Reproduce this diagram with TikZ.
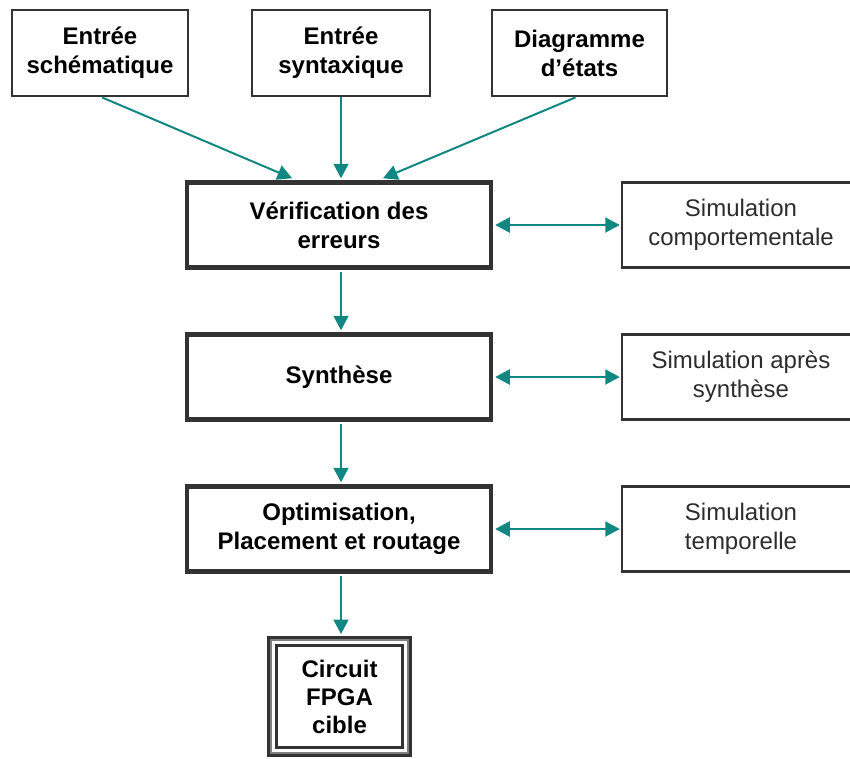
\documentclass[tikz,border=0pt]{standalone}
\usepackage{fontspec}
\setmainfont{Liberation Sans}
\usetikzlibrary{arrows.meta,calc}
\definecolor{flow}{RGB}{16,135,128}
\definecolor{edge}{RGB}{51,51,51}
\definecolor{softtext}{RGB}{45,45,45}
\begin{document}
\begin{tikzpicture}[x=1pt,y=-1pt,
  every node/.style={font=\fontsize{24}{29}\selectfont, align=center, inner sep=0pt},
  inbox/.style={draw=edge, line width=2.8pt, fill=white, minimum width=176pt, minimum height=86pt, font=\fontsize{24}{29}\selectfont\bfseries},
  stagebox/.style={draw=edge, line width=4.5pt, fill=white, minimum width=304pt, minimum height=85pt, font=\fontsize{24}{29}\selectfont\bfseries},
  simbox/.style={draw=edge, line width=2.5pt, fill=white, minimum width=238pt, minimum height=85pt, text=softtext},
  targetbox/.style={draw=edge, line width=4pt, fill=white, minimum width=141pt, minimum height=117pt, font=\fontsize{24}{28}\selectfont\bfseries},
  flowarrow/.style={draw=flow, line width=2pt, -{Triangle[length=14.5pt,width=15pt]}},
  twoway/.style={draw=flow, line width=2pt, {Triangle[length=14.5pt,width=15pt]}-{Triangle[length=14.5pt,width=15pt]}}
]
\useasboundingbox (0,0) rectangle (850,758);
\begin{scope}
\clip (0,0) rectangle (850,758);

% design entry
\node[inbox] (sch) at (100,53) {Entrée\\schématique};
\node[inbox, minimum width=178pt] (syn) at (341,53) {Entrée\\syntaxique};
\node[inbox, minimum width=175pt] (fsm) at (579.5,53) {Diagramme\\d’états};

% main flow
\node[stagebox] (chk) at (339,225) {Vérification des\\erreurs};
\node[stagebox] (synth) at (339,377) {Synthèse};
\node[stagebox] (par) at (339,529) {Optimisation,\\Placement et routage};

% simulations
\node[simbox] (simb) at (741,225) {Simulation\\comportementale};
\node[simbox] (sims) at (741,377) {Simulation après\\synthèse};
\node[simbox] (simt) at (741,529) {Simulation\\temporelle};

% target device
\node[targetbox] (fpga) at (339.5,696.5) {Circuit\\FPGA\\cible};
\draw[gray, line width=1.5pt] ([shift={(4pt,-4pt)}]fpga.north west) rectangle ([shift={(-4pt,4pt)}]fpga.south east);
\draw[edge, line width=3.5pt] ([shift={(9.5pt,-9.5pt)}]fpga.north west) rectangle ([shift={(-9.5pt,9.5pt)}]fpga.south east);

% connectors
\draw[flowarrow] ([xshift=2pt]sch.south) -- ([xshift=-47pt,yshift=2pt]chk.north);
\draw[flowarrow] (syn.south) -- ([xshift=2pt,yshift=2pt]chk.north);
\draw[flowarrow] ([xshift=-4pt]fsm.south) -- ([xshift=44pt,yshift=2pt]chk.north);

\draw[flowarrow] ([xshift=2pt,yshift=-2pt]chk.south) -- ([xshift=2pt,yshift=2pt]synth.north);
\draw[flowarrow] ([xshift=2pt,yshift=-2pt]synth.south) -- ([xshift=2pt,yshift=2pt]par.north);
\draw[flowarrow] ([xshift=2pt,yshift=-2pt]par.south) -- ([xshift=1.5pt,yshift=2pt]fpga.north);

\draw[twoway] ([xshift=2pt]chk.east) -- ([xshift=-1pt]simb.west);
\draw[twoway] ([xshift=2pt]synth.east) -- ([xshift=-1pt]sims.west);
\draw[twoway] ([xshift=2pt]par.east) -- ([xshift=-1pt]simt.west);
\end{scope}
\end{tikzpicture}
\end{document}
